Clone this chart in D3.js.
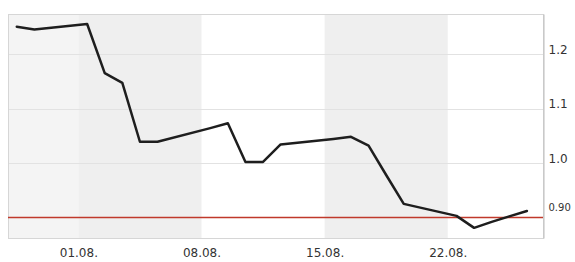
<!DOCTYPE html>
<html>
<head>
<meta charset="utf-8">
<script src="https://cdn.jsdelivr.net/npm/d3@7"></script>
<style>
  html, body { margin: 0; padding: 0; background: #fff; }
  svg { display: block; }
  .tick text { font-family: "DejaVu Sans", sans-serif; fill: #333; }
</style>
</head>
<body>
<svg id="chart" width="575" height="262"></svg>
<script>
// trading days (close at midday on the time axis)
const dates = [
  "2016-07-28", "2016-07-29",
  "2016-08-01", "2016-08-02", "2016-08-03", "2016-08-04", "2016-08-05",
  "2016-08-08", "2016-08-09", "2016-08-10", "2016-08-11", "2016-08-12",
  "2016-08-15", "2016-08-16", "2016-08-17", "2016-08-18", "2016-08-19",
  "2016-08-22", "2016-08-23", "2016-08-24", "2016-08-25", "2016-08-26",
];
const prices = [
  1.250, 1.245,
  1.255, 1.165, 1.147, 1.039, 1.039,
  1.064, 1.073, 1.002, 1.002, 1.034,
  1.044, 1.048, 1.032, 0.978, 0.925,
  0.903, 0.881, 0.892, 0.902, 0.912,
];
const refLevel = 0.90;

const yTicks = [1.2, 1.1, 1.0, 0.9];
const yTickLabels = ["1.2", "1.1", "1.0", "0.90"];
const xTicks = ["2016-08-01", "2016-08-08", "2016-08-15", "2016-08-22"];
const xTickLabels = ["01.08.", "08.08.", "15.08.", "22.08."];

// shaded week bands [start, end, colour]
const bands = [
  ["2016-07-28", "2016-08-01", "#f4f4f4"],
  ["2016-08-01", "2016-08-08", "#efefef"],
  ["2016-08-15", "2016-08-22", "#efefef"],
];

const parse = d3.timeParse("%Y-%m-%d");
const noon = (s) => d3.timeHour.offset(parse(s), 12);

const svg = d3.select("#chart");
const plotL = 8, plotR = 543, plotT = 14, plotB = 238;

const x = d3.scaleTime()
  .domain([parse("2016-07-28"), d3.timeHour.offset(parse("2016-08-27"), 10)])
  .range([plotL, plotR]);

const y = d3.scaleLinear()
  .domain([0.8624, 1.2734])
  .range([plotB, plotT]);

const points = dates.map((d, i) => ({ t: noon(d), v: prices[i] }));

// background bands
svg.append("g")
  .selectAll("rect")
  .data(bands)
  .enter()
  .append("rect")
  .attr("x", (d) => x(parse(d[0])))
  .attr("y", plotT)
  .attr("width", (d) => x(parse(d[1])) - x(parse(d[0])))
  .attr("height", plotB - plotT)
  .attr("fill", (d) => d[2]);

// horizontal grid
svg.append("g")
  .selectAll("line")
  .data(yTicks.slice(0, 3))
  .enter()
  .append("line")
  .attr("x1", plotL)
  .attr("x2", plotR)
  .attr("y1", (d) => Math.round(y(d)) + 0.5)
  .attr("y2", (d) => Math.round(y(d)) + 0.5)
  .attr("stroke", "#e2e2e2")
  .attr("stroke-width", 1);

// frame
svg.append("rect")
  .attr("x", plotL + 0.5)
  .attr("y", plotT + 0.5)
  .attr("width", plotR - plotL)
  .attr("height", plotB - plotT)
  .attr("fill", "none")
  .attr("stroke", "#d6d6d6");

// right axis
const yAxis = d3.axisRight(y)
  .tickValues(yTicks)
  .tickSize(0)
  .tickPadding(5)
  .tickFormat((d, i) => yTickLabels[i]);

const ya = svg.append("g")
  .attr("transform", `translate(${plotR + 0.5},0)`)
  .call(yAxis);
ya.select(".domain").attr("stroke", "#bdbdbd");
ya.selectAll(".tick text")
  .style("font-size", (d, i) => (i === 3 ? "10px" : "12px"))
  .attr("dy", (d, i) => (i === 3 ? "-0.7em" : "-0.05em"))
  .attr("fill", "#444");

// bottom axis
const xAxis = d3.axisBottom(x)
  .tickValues(xTicks.map(parse))
  .tickSize(0)
  .tickPadding(10)
  .tickFormat((d, i) => xTickLabels[i]);

const xa = svg.append("g")
  .attr("transform", `translate(0,${plotB})`)
  .call(xAxis);
xa.select(".domain").remove();
xa.selectAll(".tick text").style("font-size", "12px").attr("fill", "#333");

// reference line
svg.append("line")
  .attr("x1", plotL)
  .attr("x2", plotR)
  .attr("y1", y(refLevel))
  .attr("y2", y(refLevel))
  .attr("stroke", "#c0392b")
  .attr("stroke-width", 1.3);

// price line
const line = d3.line()
  .x((d) => x(d.t))
  .y((d) => y(d.v));

svg.append("path")
  .datum(points)
  .attr("d", line)
  .attr("fill", "none")
  .attr("stroke", "#1e1e1e")
  .attr("stroke-width", 2.5)
  .attr("stroke-linejoin", "round")
  .attr("stroke-linecap", "round");
</script>
</body>
</html>
